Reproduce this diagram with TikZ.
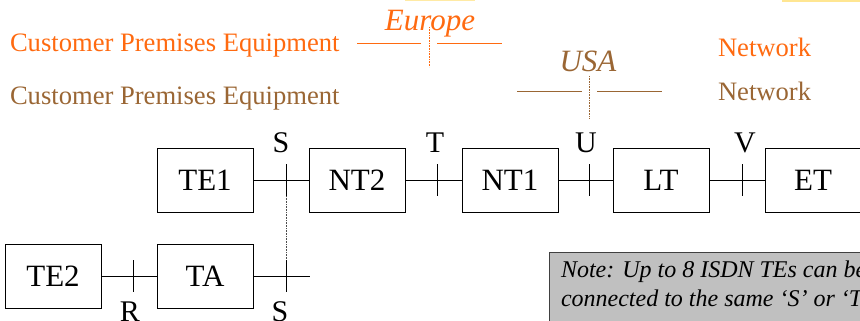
\documentclass[tikz,border=0pt]{standalone}
\usepackage{fontspec}
\setmainfont{Liberation Serif}
\begin{document}
\begin{tikzpicture}[x=1pt,y=-1pt,
  inner sep=0pt, outer sep=0pt,
  wire/.style={line width=0.8pt, black},
  unit/.style={draw, line width=0.8pt, minimum width=96pt, minimum height=64pt,
    font=\fontsize{31}{34}\selectfont},
  refpt/.style={font=\fontsize{30}{32}\selectfont, anchor=base},
  region/.style={font=\itshape\fontsize{31}{34}\selectfont, anchor=base},
  caption/.style={font=\fontsize{26.6}{30}\selectfont, anchor=base west},
  notefont/.style={font=\itshape\fontsize{24}{29}\selectfont, anchor=base west},
  border/.style={line width=0.8pt},
  guide/.style={densely dotted, line width=0.6pt}]
\definecolor{cpeorange}{HTML}{FF6A10}
\definecolor{cpebrown}{HTML}{9A6634}
\definecolor{notegray}{HTML}{C0C0C0}
\definecolor{glow}{HTML}{FFD54A}

\useasboundingbox (0,0) rectangle (860,321);
\clip (0,0) rectangle (860,321);

% faint glow along the top edge
\fill[glow, opacity=0.5] (405,0) rectangle (475,1.5);
\fill[glow, opacity=0.6] (782,0) rectangle (860,2);

% headings for the two split conventions
\node[caption, text=cpeorange] (cpeEU) at (10,52) {Customer Premises Equipment};
\node[caption, text=cpebrown]  (cpeUS) at (10,105) {Customer Premises Equipment};
\node[caption, text=cpeorange] (netEU) at (718,57) {Network};
\node[caption, text=cpebrown]  (netUS) at (718,100) {Network};

\node[region, text=cpeorange] (europe) at (430,31) {Europe};
\node[region, text=cpebrown]  (usa) at (588,72) {USA};

% boundary markers
\coordinate (euL1) at (357,43); \coordinate (euL2) at (421,43);
\coordinate (euR1) at (437,43); \coordinate (euR2) at (502,43);
\coordinate (euT) at (429,27);  \coordinate (euB) at (429,67);
\draw[border, cpeorange] (euL1) -- (euL2);
\draw[border, cpeorange] (euR1) -- (euR2);
\draw[guide, cpeorange] (euT) -- (euB);

\coordinate (usL1) at (517,91); \coordinate (usL2) at (582,91);
\coordinate (usR1) at (597,91); \coordinate (usR2) at (662,91);
\coordinate (usT) at (589,76);  \coordinate (usB) at (589,118);
\draw[border, cpebrown] (usL1) -- (usL2);
\draw[border, cpebrown] (usR1) -- (usR2);
\draw[guide, cpebrown] (usT) -- (usB);

% functional groups
\node[unit] (te1) at (205,180) {TE1};
\node[unit] (nt2) at (357,180) {NT2};
\node[unit] (nt1) at (510,180) {NT1};
\node[unit] (lt)  at (661,180) {LT};
\node[unit] (et)  at (813,180) {ET};
\node[unit] (te2) at (53,276)  {TE2};
\node[unit] (ta)  at (205,276) {TA};
\coordinate (taEnd) at (310,276);

% links between groups
\draw[wire] (te1.east) -- (nt2.west);
\draw[wire] (nt2.east) -- (nt1.west);
\draw[wire] (nt1.east) -- (lt.west);
\draw[wire] (lt.east) -- (et.west);
\draw[wire] (te2.east) -- (ta.west);
\draw[wire] (ta.east) -- (taEnd);

% reference points
\coordinate (pS)  at (286,180);
\coordinate (pT)  at (437,180);
\coordinate (pU)  at (589,180);
\coordinate (pV)  at (742,180);
\coordinate (pR)  at (133,276);
\coordinate (pS2) at (286,276);
\foreach \p in {pS,pT,pU,pV,pR,pS2}
  \draw[wire] ([yshift=16pt]\p) -- ([yshift=-16pt]\p);
\draw[guide, black!70] ([yshift=-16pt]pS) -- ([yshift=16pt]pS2);

\node[refpt] (lblS)  at (281,152) {S};
\node[refpt] (lblT)  at (435,152) {T};
\node[refpt] (lblU)  at (586,152) {U};
\node[refpt] (lblV)  at (745,152) {V};
\node[refpt] (lblR)  at (130,321) {R};
\node[refpt] (lblS2) at (280,321) {S};

% note panel
\node[draw=black!75, line width=0.8pt, fill=notegray, anchor=north west,
  minimum width=340pt, minimum height=100pt] (note) at (549,252) {};
\node[notefont] (noteA) at (561,277) {Note: Up to 8 ISDN TEs can be};
\node[notefont] (noteB) at (561,306) {connected to the same ‘S’ or ‘T’};
\end{tikzpicture}
\end{document}
